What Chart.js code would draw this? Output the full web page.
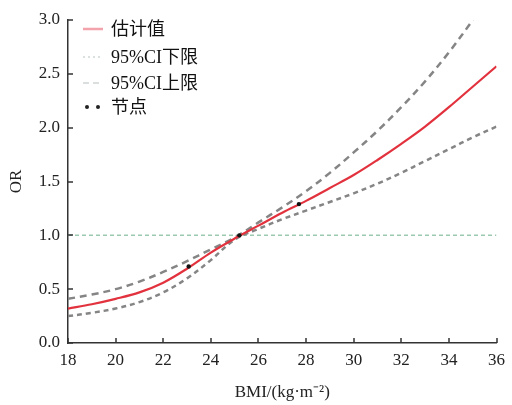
<!DOCTYPE html>
<html><head><meta charset="utf-8">
<script src="https://cdn.jsdelivr.net/npm/chart.js@4"></script>
<style>html,body{margin:0;padding:0;background:#fff}#w{width:512px;height:405px}</style>
</head><body><div id="w"><canvas id="c" width="512" height="405"></canvas></div>
<script>
const bmi = [18,19,20,21,22,23,24,25,26,27,28,29,30,31,32,33,34,35,36];
const orEst = [0.32,0.36,0.41,0.47,0.56,0.69,0.84,0.97,1.09,1.21,1.32,1.44,1.56,1.70,1.85,2.01,2.19,2.38,2.57];
const ciLower = [0.25,0.28,0.32,0.38,0.47,0.60,0.77,0.96,1.06,1.15,1.23,1.31,1.39,1.48,1.58,1.69,1.80,1.91,2.01];
const ciUpper = [0.41,0.45,0.50,0.57,0.66,0.76,0.87,0.98,1.12,1.26,1.41,1.58,1.77,1.97,2.19,2.43,2.70,3.00,3.33];
const knotX = [23.07,25.2,27.7];
const knotY = [0.71,1.0,1.29];
const refLine = [[18,1],[36,1]];
const xTicks = [18,20,22,24,26,28,30,32,34,36];
const yTicks = [0,0.5,1,1.5,2,2.5,3];
const labels = ['估计值','95%CI下限','95%CI上限','节点'];

const pts = (xs, ys) => xs.map((x,i)=>({x:x,y:ys[i]}));
const FONT = "'Liberation Serif','Noto Sans CJK SC',serif";

const innerTicks = {
  id:'innerTicks',
  afterDraw(chart){
    const ctx=chart.ctx, a=chart.chartArea, xs=chart.scales.x, ys=chart.scales.y;
    ctx.save(); ctx.strokeStyle='#333'; ctx.lineWidth=1.5;
    xTicks.forEach(t=>{const p=Math.round(xs.getPixelForValue(t));ctx.beginPath();ctx.moveTo(p,a.bottom);ctx.lineTo(p,a.bottom-5);ctx.stroke();});
    yTicks.forEach(t=>{const p=Math.round(ys.getPixelForValue(t));ctx.beginPath();ctx.moveTo(a.left,p);ctx.lineTo(a.left+5,p);ctx.stroke();});
    ctx.restore();
  }
};
const legendPlugin = {
  id:'legendIn',
  afterDraw(chart){
    const ctx=chart.ctx;
    const rows=[29,57,83,107];
    ctx.save();
    ctx.font="18px "+FONT; ctx.fillStyle='#111'; ctx.textBaseline='middle'; ctx.textAlign='left';
    rows.forEach((y,i)=>{
      ctx.beginPath();
      if(i===0){ctx.strokeStyle='#f2a3ab';ctx.lineWidth=2.5;ctx.setLineDash([]);ctx.moveTo(83,y);ctx.lineTo(103,y);ctx.stroke();}
      else if(i===1){ctx.strokeStyle='#cfd6d6';ctx.lineWidth=1.5;ctx.setLineDash([2,3]);ctx.moveTo(83,y);ctx.lineTo(103,y);ctx.stroke();}
      else if(i===2){ctx.strokeStyle='#cfd3d3';ctx.lineWidth=1.5;ctx.setLineDash([6,4]);ctx.moveTo(83,y);ctx.lineTo(103,y);ctx.stroke();}
      else {ctx.setLineDash([]);ctx.fillStyle='#222';[87,98].forEach(x=>{ctx.beginPath();ctx.arc(x,y,2,0,Math.PI*2);ctx.fill();});ctx.fillStyle='#111';}
      ctx.fillText(labels[i],111,y+1);
    });
    ctx.restore();
  }
};

new Chart(document.getElementById('c'),{
  type:'scatter',
  data:{datasets:[
    {label:labels[1],data:pts(bmi,ciLower),showLine:true,borderColor:'#858585',borderWidth:2.5,borderDash:[5,4],pointRadius:0,tension:0.35,order:3},
    {label:labels[2],data:pts(bmi,ciUpper),showLine:true,borderColor:'#858585',borderWidth:2.5,borderDash:[7,5],pointRadius:0,tension:0.35,order:3},
    {label:'ref',data:refLine.map(p=>({x:p[0],y:p[1]})),showLine:true,borderColor:'#9ccab0',borderWidth:1.5,borderDash:[4,3],pointRadius:0,order:4},
    {label:labels[0],data:pts(bmi,orEst),showLine:true,borderColor:'#e2323e',borderWidth:2.2,pointRadius:0,tension:0.35,order:2},
    {label:labels[3],data:pts(knotX,knotY),showLine:false,pointRadius:2.2,backgroundColor:'#111',borderWidth:0,order:1}
  ]},
  options:{
    responsive:false,animation:false,
    layout:{padding:{top:20,right:6,left:0,bottom:0}},
    plugins:{legend:{display:false},tooltip:{enabled:false}},
    scales:{
      x:{type:'linear',min:18,max:36,
        afterBuildTicks:s=>{s.ticks=xTicks.map(v=>({value:v}));},
        afterFit:s=>{s.height=62;},
        grid:{display:true,drawOnChartArea:false,drawTicks:false},
        border:{display:true,color:'#333',width:1.5},
        ticks:{padding:7,color:'#222',font:{family:FONT,size:17}},
        title:{display:true,text:'BMI/(kg·m⁻²)',color:'#222',font:{family:FONT,size:17},padding:{top:0,bottom:2}}
      },
      y:{type:'linear',min:0,max:3,
        afterBuildTicks:s=>{s.ticks=yTicks.map(v=>({value:v}));},
        afterFit:s=>{s.width=68;},
        grid:{display:true,drawOnChartArea:false,drawTicks:false},
        border:{display:true,color:'#333',width:1.5},
        ticks:{padding:8,color:'#222',font:{family:FONT,size:17},callback:v=>Number(v).toFixed(1)},
        title:{display:true,text:'OR',color:'#222',font:{family:FONT,size:17},padding:{top:6,bottom:0}}
      }
    }
  },
  plugins:[innerTicks,legendPlugin]
});
</script></body></html>
